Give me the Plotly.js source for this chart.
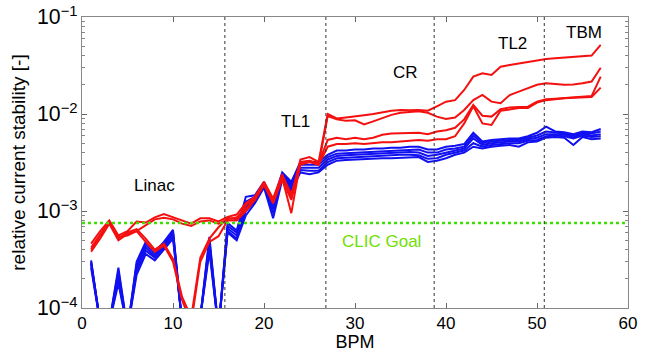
<!DOCTYPE html>
<html>
<head>
<meta charset="utf-8">
<script src="https://cdn.plot.ly/plotly-3.0.1.min.js"></script>
<style>html,body{margin:0;padding:0;background:#fff;}#chart{width:653px;height:352px;}</style>
</head>
<body>
<div id="chart"></div>
<script>
// BPM index 1..57
const bpm = [1,2,3,4,5,6,7,8,9,10,11,12,13,14,15,16,17,18,19,20,21,22,23,24,25,26,27,28,29,30,31,32,33,34,35,36,37,38,39,40,41,42,43,44,45,46,47,48,49,50,51,52,53,54,55,56,57];

// red series (relative current stability)
const redA = [4.6e-4,6.2e-4,8.0e-4,5.6e-4,6.2e-4,7.8e-4,7.6e-4,8.6e-4,9.3e-4,8.6e-4,7.9e-4,7.4e-4,8.4e-4,8.4e-4,7.8e-4,8.7e-4,9.2e-4,1.2e-3,1.4e-3,2.0e-3,1.35e-3,2.4e-3,1.4e-3,3.4e-3,3.6e-3,3.2e-3,1.0e-2,9.0e-3,9.2e-3,9.4e-3,9.7e-3,1.0e-2,1.04e-2,1.08e-2,1.1e-2,1.09e-2,1.1e-2,1.08e-2,1.2e-2,1.34e-2,1.39e-2,1.77e-2,2.43e-2,2.63e-2,2.53e-2,3.07e-2,3.2e-2,3.33e-2,3.46e-2,3.6e-2,3.69e-2,3.75e-2,3.8e-2,3.85e-2,3.9e-2,4.0e-2,5.15e-2];
const redB = [4.2e-4,5.8e-4,7.8e-4,5.4e-4,5.6e-4,6.2e-4,7.2e-4,8.2e-4,8.5e-4,8.2e-4,7.4e-4,7.0e-4,7.8e-4,8.0e-4,7.4e-4,8.2e-4,8.6e-4,1.05e-3,1.3e-3,1.9e-3,1.3e-3,2.2e-3,9.5e-4,3.2e-3,3.3e-3,3.0e-3,9.5e-3,8.8e-3,8.5e-3,8.6e-3,7.8e-3,8.4e-3,9.0e-3,9.8e-3,1.03e-2,1.05e-2,1.07e-2,1.03e-2,9.4e-3,8.9e-3,9.2e-3,1.1e-2,1.39e-2,1.57e-2,1.34e-2,1.29e-2,1.57e-2,1.7e-2,1.84e-2,2.0e-2,2.07e-2,2.03e-2,2.0e-2,2.02e-2,2.07e-2,2.16e-2,3.0e-2];
const redC = [4.0e-4,5.5e-4,7.6e-4,5.2e-4,6.0e-4,6.5e-4,5.2e-4,4.0e-4,4.6e-4,3.2e-4,1.3e-4,8e-5,3.3e-4,5.2e-4,6.8e-4,8.5e-4,8.2e-4,1.15e-3,1.35e-3,1.95e-3,1.25e-3,2.3e-3,1.5e-3,3.1e-3,3.3e-3,3.1e-3,5.4e-3,5.7e-3,5.5e-3,5.7e-3,5.5e-3,5.7e-3,6.1e-3,6.3e-3,6.3e-3,6.4e-3,6.4e-3,6.2e-3,6.6e-3,6.8e-3,7.2e-3,8.8e-3,1.24e-2,9.6e-3,9.4e-3,1.12e-2,1.17e-2,1.18e-2,1.19e-2,1.34e-2,1.42e-2,1.44e-2,1.46e-2,1.48e-2,1.5e-2,1.53e-2,2.43e-2];
const redD = [3.8e-4,5.2e-4,7.4e-4,5.0e-4,5.8e-4,6.2e-4,4.8e-4,3.8e-4,4.4e-4,3.0e-4,1.2e-4,7e-5,3.0e-4,4.8e-4,5.5e-4,8.0e-4,8.0e-4,1.0e-3,1.3e-3,1.85e-3,1.2e-3,2.1e-3,1.3e-3,3.0e-3,3.2e-3,3.0e-3,4.6e-3,4.9e-3,4.9e-3,5.0e-3,4.9e-3,5.0e-3,5.1e-3,5.1e-3,5.2e-3,5.3e-3,5.4e-3,5.3e-3,5.5e-3,5.5e-3,5.9e-3,8.0e-3,1.2e-2,8.0e-3,7.7e-3,1.08e-2,1.12e-2,1.15e-2,1.15e-2,1.31e-2,1.39e-2,1.43e-2,1.45e-2,1.47e-2,1.49e-2,1.5e-2,1.87e-2];

// blue series
const blue1 = [3.1e-4,7e-5,7e-5,2.6e-4,6e-5,3.0e-4,4.8e-4,3.8e-4,4.8e-4,6.4e-4,7e-5,6e-5,8e-5,5.4e-4,6e-5,7.5e-4,6.3e-4,1.4e-3,1.45e-3,2.0e-3,1.25e-3,2.5e-3,2.0e-3,3.2e-3,3.2e-3,3.2e-3,3.8e-3,4.2e-3,4.2e-3,4.3e-3,4.3e-3,4.4e-3,4.4e-3,4.5e-3,4.5e-3,4.6e-3,4.6e-3,4.3e-3,4.3e-3,4.6e-3,4.7e-3,4.9e-3,6.4e-3,5.2e-3,5.4e-3,5.5e-3,5.6e-3,5.6e-3,5.9e-3,6.4e-3,7.4e-3,6.6e-3,6.5e-3,6.2e-3,6.6e-3,6.5e-3,7.0e-3];
const blue2 = [3.0e-4,7e-5,7e-5,2.4e-4,6e-5,2.8e-4,4.5e-4,3.6e-4,4.6e-4,6.1e-4,7e-5,6e-5,8e-5,5.0e-4,6e-5,7.0e-4,6.0e-4,1.25e-3,1.4e-3,1.95e-3,1.15e-3,2.4e-3,1.9e-3,3.0e-3,3.0e-3,3.0e-3,3.6e-3,3.9e-3,3.95e-3,4.0e-3,4.05e-3,4.1e-3,4.15e-3,4.2e-3,4.25e-3,4.3e-3,4.3e-3,4.0e-3,4.0e-3,4.3e-3,4.4e-3,4.6e-3,6.0e-3,5.0e-3,5.2e-3,5.3e-3,5.4e-3,5.4e-3,5.7e-3,6.0e-3,6.6e-3,6.4e-3,6.3e-3,6.0e-3,6.4e-3,6.3e-3,6.6e-3];
const blue3 = [2.9e-4,7e-5,7e-5,2.2e-4,6e-5,2.6e-4,4.2e-4,3.4e-4,4.4e-4,5.8e-4,7e-5,6e-5,8e-5,4.6e-4,6e-5,6.6e-4,5.6e-4,1.1e-3,1.3e-3,1.9e-3,1.05e-3,2.3e-3,1.8e-3,2.8e-3,2.8e-3,2.8e-3,3.4e-3,3.7e-3,3.75e-3,3.8e-3,3.85e-3,3.9e-3,3.9e-3,4.0e-3,4.0e-3,4.05e-3,4.0e-3,3.7e-3,3.8e-3,4.0e-3,4.2e-3,4.4e-3,5.6e-3,4.8e-3,5.0e-3,5.1e-3,5.2e-3,5.2e-3,5.5e-3,5.7e-3,6.2e-3,6.2e-3,6.1e-3,5.8e-3,6.2e-3,6.0e-3,6.2e-3];
const blue4 = [2.8e-4,7e-5,7e-5,2.0e-4,6e-5,2.4e-4,3.9e-4,3.3e-4,4.2e-4,5.5e-4,7e-5,6e-5,8e-5,4.2e-4,6e-5,6.2e-4,5.2e-4,1.0e-3,1.25e-3,1.8e-3,9.5e-4,2.2e-3,1.7e-3,2.65e-3,2.6e-3,2.6e-3,3.2e-3,3.5e-3,3.55e-3,3.6e-3,3.6e-3,3.65e-3,3.7e-3,3.75e-3,3.8e-3,3.8e-3,3.75e-3,3.45e-3,3.5e-3,3.8e-3,4.0e-3,4.2e-3,5.0e-3,4.6e-3,4.8e-3,4.9e-3,5.0e-3,5.0e-3,5.3e-3,5.4e-3,5.9e-3,6.0e-3,5.9e-3,5.6e-3,6.0e-3,5.8e-3,5.9e-3];
const blue5 = [2.6e-4,7e-5,7e-5,1.8e-4,6e-5,2.2e-4,3.6e-4,3.1e-4,4.0e-4,5.2e-4,7e-5,6e-5,8e-5,3.8e-4,6e-5,6.0e-4,5.0e-4,9e-4,1.2e-3,1.75e-3,8.4e-4,2.1e-3,1.6e-3,2.5e-3,2.4e-3,2.5e-3,3.0e-3,3.3e-3,3.35e-3,3.4e-3,3.4e-3,3.45e-3,3.5e-3,3.5e-3,3.55e-3,3.6e-3,3.6e-3,3.2e-3,3.3e-3,3.5e-3,3.8e-3,4.0e-3,4.6e-3,4.4e-3,4.6e-3,4.7e-3,4.8e-3,4.6e-3,5.1e-3,5.2e-3,5.7e-3,5.8e-3,5.7e-3,4.8e-3,5.8e-3,5.5e-3,5.6e-3];

const redSeries = [redA, redB, redC, redD];
const blueSeries = [blue1, blue2, blue3, blue4, blue5];

const clicGoal = 7.5e-4;
const sectionBounds = [15.7, 26.8, 38.7, 50.8];

const sectionLabels = ["Linac", "TL1", "CR", "TL2", "TBM"];
const sectionLabelX = [8.0, 23.5, 35.6, 47.3, 55.2];
const sectionLabelY = [1.85e-3, 8.3e-3, 2.65e-2, 5.3e-2, 7.0e-2];
const goalLabel = "CLIC Goal";
const goalLabelX = 32.9;
const goalLabelY = 4.8e-4;

const traces = [];
blueSeries.forEach(s => traces.push({x: bpm, y: s, type: 'scatter', mode: 'lines',
  line: {color: '#1010f0', width: 2}, hoverinfo: 'skip', showlegend: false}));
redSeries.forEach(s => traces.push({x: bpm, y: s, type: 'scatter', mode: 'lines',
  line: {color: '#f51010', width: 2}, hoverinfo: 'skip', showlegend: false}));
traces.push({x: [0, 60], y: [clicGoal, clicGoal], type: 'scatter', mode: 'lines',
  line: {color: '#3ae000', width: 2.5, dash: 'dot'}, hoverinfo: 'skip', showlegend: false});

const shapes = sectionBounds.map(b => ({type: 'line', xref: 'x', yref: 'paper', x0: b, x1: b, y0: 0, y1: 1,
  line: {color: '#333', width: 1, dash: 'dot'}, layer: 'above'}));

const annotations = sectionLabels.map((t, i) => ({x: sectionLabelX[i], y: Math.log10(sectionLabelY[i]),
  xref: 'x', yref: 'y', text: t, showarrow: false, font: {size: 17, color: '#000'}}));
annotations.push({x: goalLabelX, y: Math.log10(goalLabelY), xref: 'x', yref: 'y', text: goalLabel,
  showarrow: false, font: {size: 17, color: '#6ee000'}});

const layout = {
  width: 653, height: 352,
  margin: {l: 82, r: 25, t: 17, b: 44},
  paper_bgcolor: '#fff', plot_bgcolor: '#fff',
  font: {family: 'Liberation Sans, Arial, sans-serif', size: 17, color: '#000'},
  showlegend: false,
  xaxis: {range: [0, 60], dtick: 10, tick0: 0, ticks: 'inside', ticklen: 5, tickcolor: '#666',
    showline: true, linecolor: '#888', linewidth: 1, mirror: 'ticks', showgrid: false, zeroline: false,
    tickfont: {size: 17}, title: {text: 'BPM', font: {size: 18}, standoff: 6}},
  yaxis: {type: 'log', range: [-4, -1], dtick: 1, exponentformat: 'power', ticks: 'inside', ticklen: 5, tickcolor: '#666',
    showline: true, linecolor: '#888', linewidth: 1, mirror: 'ticks', showgrid: false, zeroline: false,
    minor: {ticks: 'inside', ticklen: 3, tickcolor: '#888', showgrid: false},
    tickfont: {size: 17}, title: {text: 'relative current stability [-]', font: {size: 19}, standoff: 6}},
  shapes: shapes,
  annotations: annotations
};

Plotly.newPlot('chart', traces, layout, {staticPlot: true, displayModeBar: false});
</script>
</body>
</html>
